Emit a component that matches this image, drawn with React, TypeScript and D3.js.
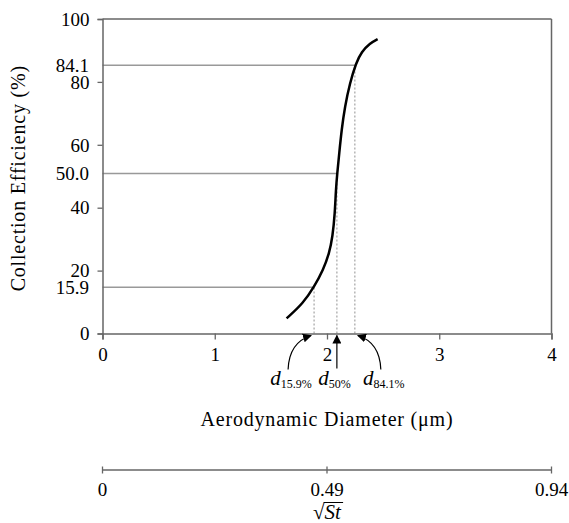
import React, { useEffect, useRef } from "react";
import * as d3 from "d3";

// Curve: aerodynamic diameter (µm) vs collection efficiency (%)
const diam = [1.64, 1.788, 1.886, 1.966, 2.02, 2.05, 2.07, 2.079, 2.091, 2.109, 2.13, 2.159, 2.204, 2.257, 2.308, 2.382, 2.451];
const eff = [4.8, 9.6, 14.9, 20.2, 25.5, 30.8, 38.2, 45.6, 50.9, 57.3, 64.7, 72.1, 79.6, 85.9, 89.6, 92.3, 93.6];

// Reference cut points
const refEff = [14.7, 50.9, 85.3];
const refLabels = ["15.9", "50.0", "84.1"];
const refDiam = [1.885, 2.088, 2.248];
const refSubs = ["15.9%", "50%", "84.1%"];

const yTicks = [0, 20, 40, 60, 80, 100];
const xTicks = [0, 1, 2, 3, 4];

// Secondary axis (sqrt Stokes)
const stDiam = [0, 2, 4];
const stLabels = ["0", "0.49", "0.94"];

const W = 569, H = 523;
const M = { left: 102.5, right: 17.5, top: 19, bottom: 189.5 };
const FONT = "'Liberation Serif', serif";
const FS = 19;

export default function App() {
  const ref = useRef<SVGSVGElement>(null);
  useEffect(() => {
    const svg = d3.select(ref.current);
    svg.selectAll("*").remove();
    const x = d3.scaleLinear().domain([0, 4]).range([M.left, W - M.right]);
    const y = d3.scaleLinear().domain([0, 100]).range([H - M.bottom, M.top]);
    const axisCol = "#666";

    const defs = svg.append("defs");
    defs.append("marker").attr("id", "ah").attr("viewBox", "0 0 10 10")
      .attr("refX", 9).attr("refY", 5).attr("markerWidth", 9).attr("markerHeight", 9)
      .attr("markerUnits", "userSpaceOnUse").attr("orient", "auto")
      .append("path").attr("d", "M0,0L10,5L0,10Z").attr("fill", "#000");

    // frame
    svg.append("line").attr("x1", x(0)).attr("x2", x(4)).attr("y1", y(100)).attr("y2", y(100))
      .attr("stroke", axisCol).attr("stroke-width", 1.5);
    svg.append("line").attr("x1", x(4)).attr("x2", x(4)).attr("y1", y(100)).attr("y2", y(0))
      .attr("stroke", axisCol).attr("stroke-width", 1.5);

    // reference lines
    refEff.forEach((e, i) => {
      svg.append("line").attr("x1", x(0)).attr("x2", x(refDiam[i])).attr("y1", y(e)).attr("y2", y(e))
        .attr("stroke", "#999").attr("stroke-width", 1.5);
      svg.append("line").attr("x1", x(refDiam[i])).attr("x2", x(refDiam[i])).attr("y1", y(0)).attr("y2", y(e))
        .attr("stroke", "#aaa").attr("stroke-width", 1.3).attr("stroke-dasharray", "2,2");
      svg.append("text").attr("x", x(0) - 13.5).attr("y", y(e)).attr("dy", "0.33em")
        .attr("text-anchor", "end").attr("font-family", FONT).attr("font-size", FS).text(refLabels[i]);
    });

    // y axis
    const yAxis = svg.append("g").attr("transform", `translate(${x(0)},0)`)
      .call(d3.axisLeft(y).tickValues(yTicks).tickSize(5).tickPadding(8).tickFormat(d3.format("d")));
    yAxis.select(".domain").attr("stroke", axisCol).attr("stroke-width", 1.5);
    yAxis.selectAll(".tick line").attr("stroke", axisCol).attr("stroke-width", 1.3);
    yAxis.selectAll("text").attr("font-family", FONT).attr("font-size", FS).attr("fill", "#000").attr("dy", "0.33em");

    // x axis
    const xAxis = svg.append("g").attr("transform", `translate(0,${y(0)})`)
      .call(d3.axisBottom(x).tickValues(xTicks).tickSize(6).tickPadding(8).tickFormat(d3.format("d")));
    xAxis.select(".domain").attr("stroke", axisCol).attr("stroke-width", 1.5);
    xAxis.selectAll(".tick line").attr("stroke", axisCol).attr("stroke-width", 1.3);
    xAxis.selectAll("text").attr("font-family", FONT).attr("font-size", FS).attr("fill", "#000");

    // curve
    const line = d3.line<number>().x((d, i) => x(diam[i])).y((d) => y(d)).curve(d3.curveBasis);
    svg.append("path").attr("d", line(eff)).attr("fill", "none").attr("stroke", "#000").attr("stroke-width", 2.5);

    // arrows + labels
    const y0 = y(0);
    const sides = [-1, 0, 1];
    refDiam.forEach((dv, i) => {
      const s = sides[i];
      const tipX = x(dv) + s * 3;
      const tipY = y0 + 2;
      if (s === 0) {
        svg.append("line").attr("x1", x(dv)).attr("x2", x(dv)).attr("y1", y0 + 35).attr("y2", tipY)
          .attr("stroke", "#000").attr("stroke-width", 1.2).attr("marker-end", "url(#ah)");
      } else {
        const sx = x(dv) + s * 26;
        const p = d3.path();
        p.moveTo(sx, y0 + 36);
        p.quadraticCurveTo(sx - s * 1, y0 + 9, tipX, tipY);
        svg.append("path").attr("d", p.toString()).attr("fill", "none").attr("stroke", "#000")
          .attr("stroke-width", 1.2).attr("marker-end", "url(#ah)");
      }
      const lx = s === -1 ? x(dv) - 23 : s === 0 ? x(dv) - 2.5 : x(dv) + 29;
      const t = svg.append("text").attr("x", lx).attr("y", y0 + 51).attr("text-anchor", "middle")
        .attr("font-family", FONT).attr("font-size", 21);
      t.append("tspan").attr("font-style", "italic").text("d");
      t.append("tspan").attr("font-size", 12).attr("dy", 3).text(refSubs[i]);
    });

    // titles
    svg.append("text").attr("x", x(2)).attr("y", 426).attr("text-anchor", "middle")
      .attr("font-family", FONT).attr("font-size", 20).attr("letter-spacing", 0.8)
      .text("Aerodynamic Diameter (\u03bcm)");
    svg.append("text").attr("transform", `translate(25,${(y(0) + y(100)) / 2 + 2}) rotate(-90)`)
      .attr("text-anchor", "middle").attr("font-family", FONT).attr("font-size", 20).attr("letter-spacing", 0.8)
      .text("Collection Efficiency (%)");

    // secondary axis
    const sy = 470;
    svg.append("line").attr("x1", x(stDiam[0])).attr("x2", x(stDiam[stDiam.length - 1])).attr("y1", sy).attr("y2", sy)
      .attr("stroke", axisCol).attr("stroke-width", 1.5);
    stDiam.forEach((dv, i) => {
      svg.append("line").attr("x1", x(dv)).attr("x2", x(dv)).attr("y1", sy - 3.5).attr("y2", sy + 3.5)
        .attr("stroke", axisCol).attr("stroke-width", 1.3);
      svg.append("text").attr("x", x(dv)).attr("y", 496).attr("text-anchor", "middle")
        .attr("font-family", FONT).attr("font-size", FS).text(stLabels[i]);
    });
    const st = svg.append("text").attr("x", x(2)).attr("y", 519).attr("text-anchor", "middle")
      .attr("font-family", FONT).attr("font-size", 21);
    st.append("tspan").text("\u221a");
    const stSpan = st.append("tspan").attr("font-style", "italic").text("St");
    const node = stSpan.node() as SVGTSpanElement;
    try {
      const bb = node.getBBox();
      svg.append("line").attr("x1", bb.x - 1).attr("x2", bb.x + bb.width + 1)
        .attr("y1", bb.y + 2.5).attr("y2", bb.y + 2.5).attr("stroke", "#000").attr("stroke-width", 1);
    } catch (e) {}
  }, []);
  return (
    <svg ref={ref} width={W} height={H} style={{ position: "absolute", left: 0, top: 0, background: "#fff" }} />
  );
}
